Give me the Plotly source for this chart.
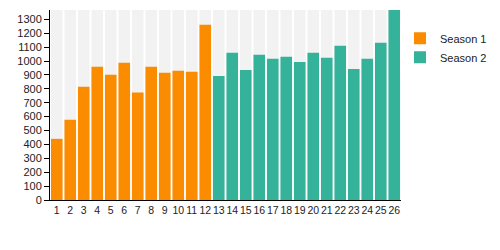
import plotly.graph_objects as go

season1_x = list(range(1, 13))
season1_y = [440, 578, 815, 958, 902, 988, 773, 958, 916, 930, 923, 1260]
season2_x = list(range(13, 27))
season2_y = [893, 1060, 935, 1045, 1017, 1030, 993, 1060, 1024, 1110, 942, 1017, 1132, 1367]
all_x = season1_x + season2_x
y_max = 1367
y_ticks = list(range(0, 1400, 100))

fig = go.Figure()
fig.add_trace(go.Bar(x=all_x, y=[y_max] * len(all_x), marker=dict(color="#f2f2f2", line=dict(width=0)),
                     showlegend=False, hoverinfo="skip"))
fig.add_trace(go.Bar(x=season1_x, y=season1_y, name="Season 1",
                     marker=dict(color="#fb8c00", line=dict(width=0))))
fig.add_trace(go.Bar(x=season2_x, y=season2_y, name="Season 2",
                     marker=dict(color="#35b39a", line=dict(width=0))))

fig.update_layout(
    width=500, height=250,
    margin=dict(l=50, r=99, t=10, b=50, autoexpand=False),
    barmode="overlay", bargap=0.14,
    plot_bgcolor="white", paper_bgcolor="white",
    font=dict(family="Liberation Sans, Arial, sans-serif", size=11, color="#222"),
    legend=dict(xref="container", yref="container", x=0.80, y=0.905,
                xanchor="left", yanchor="top",
                font=dict(size=11), itemwidth=30, tracegroupgap=0),
    xaxis=dict(range=[0.5, 26.5], tickmode="array", tickvals=all_x,
               ticktext=[str(v) for v in all_x], showgrid=False, zeroline=False,
               showline=True, linecolor="black", linewidth=1, ticks="", ticklen=0,
               tickangle=0, tickfont=dict(size=10.5)),
    yaxis=dict(range=[0, y_max], tickmode="array", tickvals=y_ticks,
               showgrid=False, zeroline=False, showline=True, linecolor="black",
               linewidth=1, ticks="outside", ticklen=5, tickcolor="black"),
)

fig.write_html("out.html")
